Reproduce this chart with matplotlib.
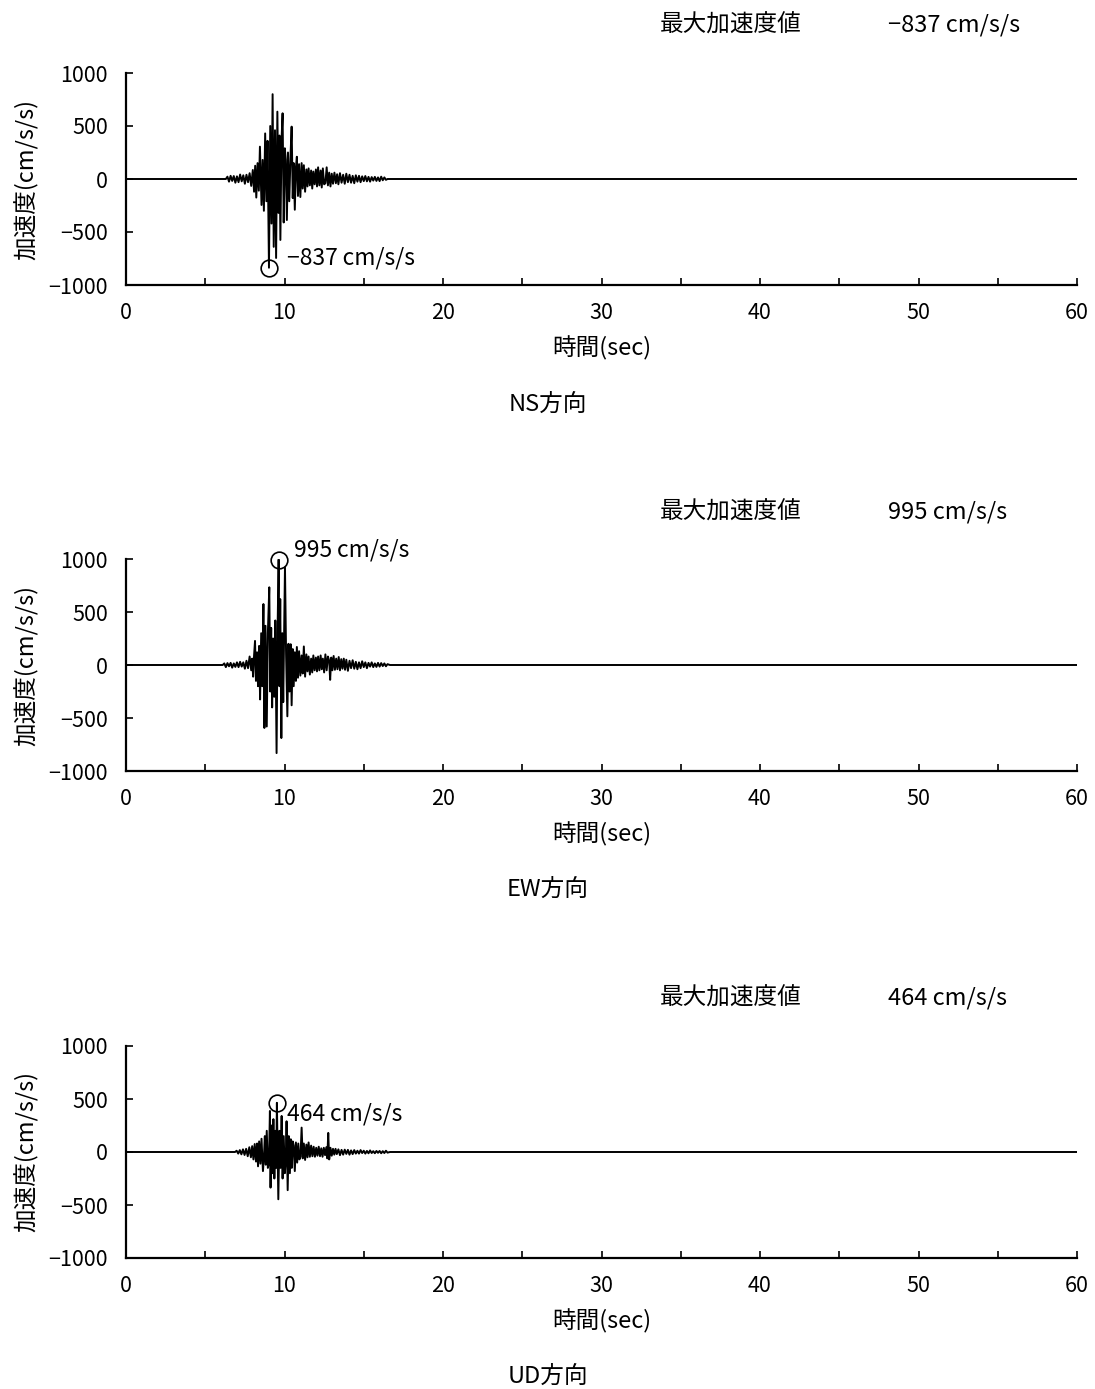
import numpy as np
import matplotlib
matplotlib.use("Agg")
import matplotlib.pyplot as plt
from matplotlib.ticker import MultipleLocator

plt.rcParams['font.family'] = ['Noto Sans CJK JP', 'DejaVu Sans']

# (time [s], acceleration [cm/s/s])
ns_trace = [
    (6.30, 0), (6.40, 22), (6.50, -25), (6.60, 30), (6.70, -18), (6.80, 28), (6.90, -35),
    (7.00, 25), (7.10, -30), (7.20, 42), (7.30, -22), (7.40, 35), (7.50, -45), (7.60, 40),
    (7.70, -30), (7.80, 55), (7.90, -65), (8.00, 85), (8.08, -120), (8.15, 125), (8.22, -175),
    (8.30, 150), (8.38, -110), (8.45, 305), (8.55, -245), (8.62, 180), (8.70, -300), (8.78, 430),
    (8.86, -210), (8.93, 360), (9.02, -837), (9.10, 500), (9.18, -420), (9.25, 800), (9.32, -640),
    (9.40, 460), (9.47, -745), (9.55, 635), (9.62, -320), (9.68, 410), (9.74, -575), (9.81, 360),
    (9.88, 620), (9.95, -410), (10.02, 290), (10.08, 180), (10.15, -387), (10.22, 250),
    (10.30, -210), (10.38, 220), (10.45, 494), (10.52, -180), (10.58, 150), (10.65, -290),
    (10.72, 110), (10.78, 210), (10.85, -160), (10.92, 140), (11.00, -170), (11.08, 150),
    (11.15, -90), (11.22, 130), (11.30, -120), (11.38, 90), (11.45, -70), (11.52, 100),
    (11.60, -60), (11.68, 80), (11.75, -90), (11.82, 70), (11.90, -50), (11.98, 90), (12.05, -70),
    (12.12, 110), (12.20, -60), (12.28, 80), (12.35, -80), (12.42, 100), (12.50, -50), (12.58, -40),
    (12.66, 110), (12.74, -60), (12.82, 60), (12.90, -70), (12.98, 50), (13.06, -45), (13.15, 60),
    (13.24, -40), (13.32, 45), (13.40, -50), (13.50, 55), (13.60, -35), (13.70, 40), (13.80, -45),
    (13.90, 50), (14.00, -30), (14.10, 40), (14.20, -35), (14.30, 30), (14.40, -40), (14.50, 35),
    (14.60, -25), (14.70, 30), (14.80, -30), (14.90, 25), (15.00, -20), (15.10, 28), (15.20, -22),
    (15.30, 20), (15.40, -25), (15.50, 18), (15.60, -15), (15.70, 20), (15.80, -18), (15.90, 15),
    (16.00, -20), (16.10, 22), (16.20, -12), (16.30, 15), (16.40, -8), (16.50, 0),
]

ew_trace = [
    (6.10, 0), (6.20, 15), (6.30, -20), (6.40, 18), (6.50, -12), (6.60, 20), (6.70, -25),
    (6.80, 15), (6.90, -18), (7.00, 25), (7.10, -20), (7.20, 30), (7.30, -15), (7.40, 25),
    (7.50, -35), (7.60, 40), (7.70, -30), (7.80, 80), (7.90, -50), (7.96, 60), (8.02, -110),
    (8.08, 90), (8.14, 227), (8.20, -150), (8.27, 120), (8.33, -200), (8.40, 180), (8.46, -325),
    (8.53, 300), (8.60, -200), (8.67, 575), (8.73, -594), (8.80, 370), (8.88, -580), (8.95, 300),
    (9.04, 733), (9.10, -250), (9.16, 350), (9.22, -400), (9.28, 250), (9.35, -300), (9.42, 420),
    (9.50, -831), (9.56, 300), (9.63, 995), (9.68, -200), (9.73, 622), (9.80, -689), (9.86, 300),
    (9.92, -350), (9.97, 250), (10.03, 922), (10.10, 100), (10.18, -484), (10.25, 200),
    (10.32, -250), (10.39, 196), (10.45, -380), (10.52, 150), (10.58, -200), (10.65, 120),
    (10.72, -150), (10.78, 170), (10.85, -120), (10.92, 130), (11.00, -100), (11.08, 90),
    (11.15, -80), (11.22, 175), (11.30, -110), (11.38, 100), (11.45, -60), (11.52, 80),
    (11.60, -90), (11.68, 60), (11.75, -70), (11.82, 90), (11.90, -50), (11.98, 70), (12.05, -60),
    (12.12, 80), (12.20, -50), (12.28, 90), (12.35, -40), (12.42, 60), (12.50, -70), (12.58, 100),
    (12.66, -50), (12.74, 80), (12.82, 40), (12.88, -140), (12.95, 70), (13.02, -50), (13.10, 85),
    (13.18, -45), (13.26, 60), (13.34, -40), (13.42, 75), (13.50, -50), (13.58, 55), (13.66, -35),
    (13.74, 60), (13.82, -45), (13.90, 50), (14.00, -55), (14.10, 40), (14.20, -30), (14.30, 45),
    (14.40, -35), (14.50, 30), (14.60, -40), (14.70, 25), (14.80, -30), (14.90, 35), (15.00, -20),
    (15.10, 25), (15.20, -30), (15.30, 20), (15.40, -15), (15.50, 25), (15.60, -20), (15.70, 15),
    (15.80, -18), (15.90, 20), (16.00, -15), (16.10, 18), (16.20, -10), (16.30, 15), (16.40, -12),
    (16.50, 8), (16.65, 0),
]

ud_trace = [
    (6.88, 0), (6.98, 12), (7.08, -15), (7.18, 18), (7.28, -22), (7.38, 25), (7.48, -28),
    (7.58, 30), (7.68, -40), (7.78, 45), (7.88, -50), (7.96, 55), (8.04, -70), (8.12, 75),
    (8.20, -90), (8.27, 80), (8.33, -135), (8.40, 100), (8.48, -110), (8.55, 125), (8.64, -180),
    (8.70, -60), (8.76, 150), (8.82, -120), (8.88, 200), (8.95, -150), (9.02, -100), (9.08, 387),
    (9.12, -336), (9.18, 250), (9.24, -200), (9.30, 310), (9.36, -250), (9.42, 200), (9.48, -150),
    (9.52, 464), (9.61, -446), (9.68, 200), (9.75, -150), (9.82, 340), (9.88, -250), (9.95, 150),
    (10.02, -200), (10.08, -80), (10.13, 290), (10.20, -360), (10.27, 150), (10.34, -200),
    (10.40, 120), (10.46, -150), (10.52, 100), (10.58, 60), (10.65, -180), (10.72, 90),
    (10.80, -100), (10.87, 80), (10.94, -70), (11.01, -40), (11.08, 230), (11.15, -60),
    (11.22, 80), (11.30, -75), (11.38, 70), (11.45, -50), (11.52, 90), (11.60, -45), (11.68, 60),
    (11.76, -40), (11.84, 50), (11.92, -45), (12.00, 40), (12.08, -35), (12.16, 50), (12.24, -40),
    (12.32, 35), (12.40, -45), (12.48, 40), (12.56, -30), (12.64, 45), (12.70, -60), (12.76, 180),
    (12.82, -70), (12.90, 40), (12.98, -35), (13.06, 30), (13.14, -25), (13.22, 30), (13.30, -20),
    (13.40, 25), (13.50, -30), (13.60, 20), (13.70, -25), (13.80, 22), (13.90, -18), (14.00, 20),
    (14.10, -25), (14.20, 15), (14.30, -20), (14.40, 18), (14.50, -15), (14.60, 12), (14.70, -15),
    (14.80, 18), (14.90, -10), (15.00, 12), (15.10, -15), (15.20, 10), (15.30, -12), (15.40, 15),
    (15.50, -10), (15.60, 8), (15.70, -12), (15.80, 10), (15.90, -8), (16.00, 10), (16.10, -12),
    (16.20, 8), (16.30, -10), (16.40, 12), (16.50, -6), (16.65, 0),
]

traces = [ns_trace, ew_trace, ud_trace]
directions = ["NS方向", "EW方向", "UD方向"]
label_offsets = [(13, 7), (11, 7), (7, -8)]  # text offset from the peak circle, points

x_ticks = [0, 10, 20, 30, 40, 50, 60]
y_ticks = [-1000, -500, 0, 500, 1000]

W, H = 1095, 1389
fig = plt.figure(figsize=(W / 100, H / 100), dpi=100)

ax_bottoms = [285, 771, 1258]   # pixel y of the bottom axis line
top_text_y = [25, 512, 998]
dir_text_y = [404, 889, 1376]

for i, tr in enumerate(traces):
    t = np.array([p[0] for p in tr])
    a = np.array([p[1] for p in tr])
    t = np.concatenate([[0.0], t, [60.0]])
    a = np.concatenate([[0.0], a, [0.0]])

    ax = fig.add_axes([126 / W, 1 - ax_bottoms[i] / H, 951 / W, 212 / H])
    ax.plot(t, a, color="black", lw=1.4)

    k = np.argmax(np.abs(a))
    pk_t, pk_a = t[k], a[k]
    ax.plot(pk_t, pk_a, "o", ms=12, mfc="none", mec="black", mew=1.2, clip_on=False)
    txt = f"{pk_a:.0f}".replace("-", "\u2212") + "\u2009cm/s/s"
    dx, dy = label_offsets[i]
    ax.annotate(txt, (pk_t, pk_a), xytext=(dx, dy), textcoords="offset points",
                ha="left", va="center", fontsize=16.5, annotation_clip=False)

    ax.set_xlim(0, 60)
    ax.set_ylim(-1000, 1000)
    ax.set_xticks(x_ticks)
    ax.xaxis.set_minor_locator(MultipleLocator(5))
    ax.set_yticks(y_ticks)
    ax.set_yticklabels([f"{v}".replace("-", "\u2212") for v in y_ticks])
    ax.tick_params(which="both", direction="in", length=5, width=1.2, labelsize=15.5)
    ax.tick_params(axis="x", pad=12)
    ax.tick_params(axis="y", pad=13)
    for s in ["top", "right"]:
        ax.spines[s].set_visible(False)
    for s in ["left", "bottom"]:
        ax.spines[s].set_linewidth(1.6)

    ax.set_xlabel("時間(sec)", fontsize=17, labelpad=9)
    ax.set_ylabel("加速度(cm/s/s)", fontsize=17, labelpad=7)

    fig.text(660 / W, 1 - top_text_y[i] / H, "最大加速度値", fontsize=17,
             ha="left", va="center")
    fig.text(888 / W, 1 - top_text_y[i] / H,
             f"{pk_a:.0f}".replace("-", "\u2212") + " cm/s/s", fontsize=17,
             ha="left", va="center")
    fig.text(548 / W, 1 - dir_text_y[i] / H, directions[i], fontsize=17,
             ha="center", va="center")

fig.savefig("out.png", dpi=100, facecolor="white")
